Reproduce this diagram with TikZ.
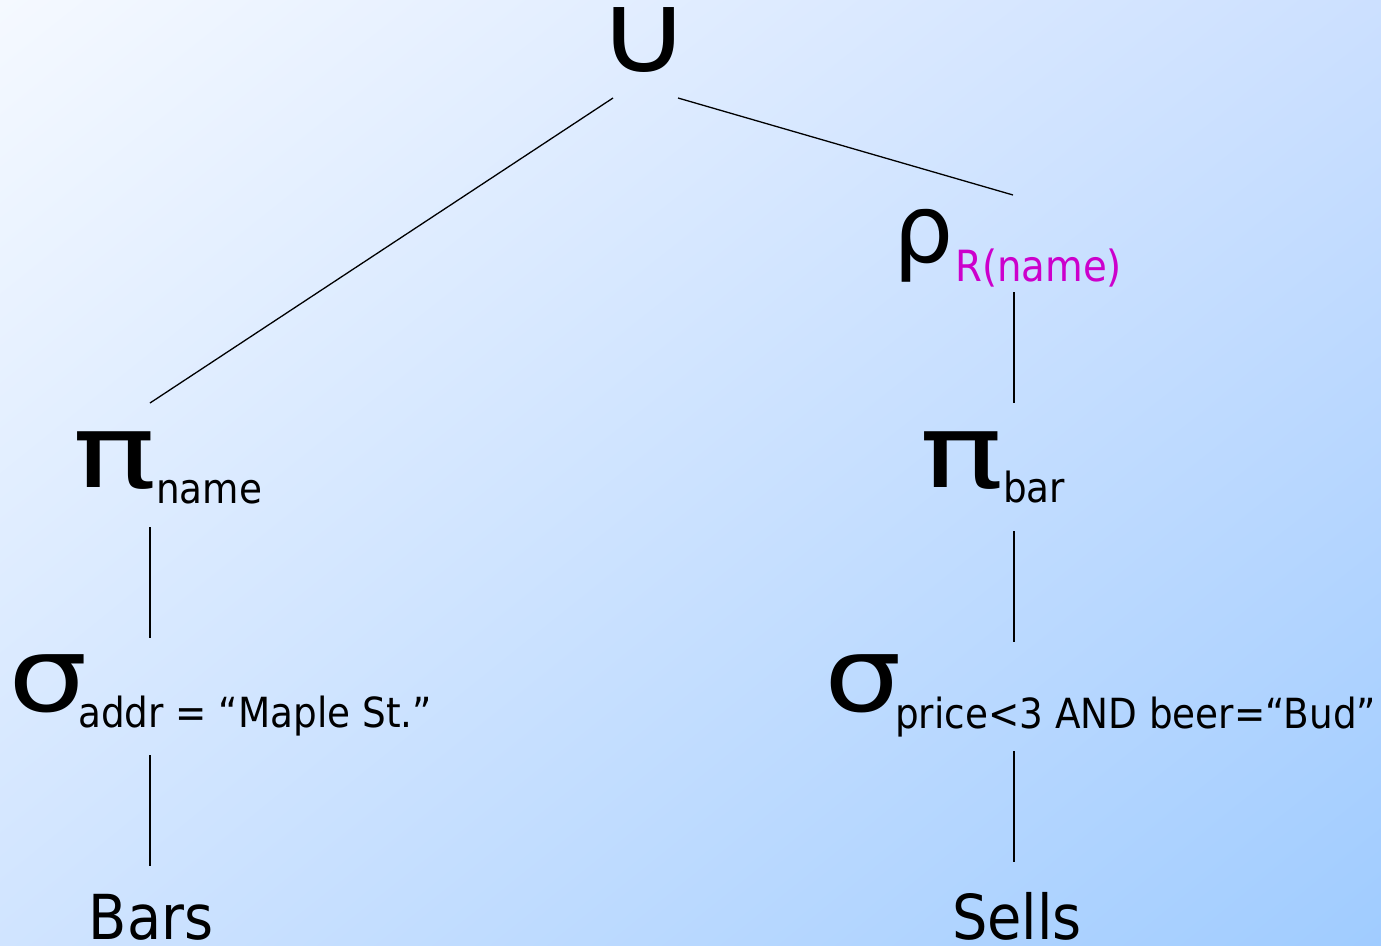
\documentclass[tikz,border=0pt]{standalone}
\usepackage{fontspec}
\usetikzlibrary{shadings}
\setmainfont{DejaVu Sans}[FakeStretch=0.9]
\newfontfamily\symfont{DejaVu Sans}
\definecolor{mag}{HTML}{CC00CC}
\definecolor{bgUL}{HTML}{F5F9FF}
\definecolor{bgUR}{HTML}{CCE0FF}
\definecolor{bgLL}{HTML}{D0E4FF}
\definecolor{bgLR}{HTML}{A0CCFF}
\tikzset{
  sym/.style={inner sep=0pt, anchor=base, font=\symfont\fontsize{100}{100}\selectfont},
  subtxt/.style={inner sep=0pt, anchor=base west, font=\fontsize{41.5}{41.5}\selectfont},
  rel/.style={inner sep=0pt, anchor=base, text depth=0pt, font=\fontsize{62}{62}\selectfont},
  edge/.style={line width=1.3pt, black}
}
\begin{document}
\begin{tikzpicture}[x=1pt,y=-1pt]
\shade[upper left=bgUL, upper right=bgUR, lower left=bgLL, lower right=bgLR] (0,0) rectangle (1381,945);
\useasboundingbox (0,0) rectangle (1381,945);
% nodes
\node[sym, font=\symfont\fontsize{85}{85}\selectfont] (union) at (644,72) {\raisebox{0pt}[60pt][0pt]{\scalebox{1.5}[1.32]{∪}}};
\node[sym, font=\symfont\fontsize{95}{95}\selectfont] (rho) at (924,262) {ρ};
\node[subtxt, text=mag, font=\fontsize{43}{43}\selectfont] (rhosub) at (955,281) {R(name)};
\node[sym] (pil) at (115,487) {\scalebox{1.4}[1.02]{π}};
\node[subtxt] (pilsub) at (156,503) {name};
\node[sym] (pir) at (962,487) {\scalebox{1.4}[1.02]{π}};
\node[subtxt] (pirsub) at (1003,502) {bar};
\node[sym] (sigl) at (48,711) {\scalebox{1.25}[1.04]{σ}};
\node[subtxt] (siglsub) at (78,727) {addr = “Maple St.”};
\node[sym] (sigr) at (863,711) {\scalebox{1.22}[1.04]{σ}};
\node[subtxt] (sigrsub) at (895,728) {price<3 AND beer=“Bud”};
\node[rel] (bars) at (151,939) {Bars};
\node[rel] (sells) at (1017,939) {Sells};
% connector ends
\coordinate (uL) at (613,98);
\coordinate (uR) at (678,98);
\coordinate (rhoT) at (1013,195);
\coordinate (rhoB) at (1014,292);
\coordinate (pilT) at (150,403);
\coordinate (pilB) at (150,527);
\coordinate (siglT) at (150,638);
\coordinate (siglB) at (150,755);
\coordinate (barsT) at (150,866);
\coordinate (pirT) at (1014,403);
\coordinate (pirB) at (1014,531);
\coordinate (sigrT) at (1014,642);
\coordinate (sigrB) at (1014,751);
\coordinate (sellsT) at (1014,862);
\draw[edge] (uL) -- (pilT);
\draw[edge] (uR) -- (rhoT);
\draw[edge] (rhoB) -- (pirT);
\draw[edge] (pilB) -- (siglT);
\draw[edge] (siglB) -- (barsT);
\draw[edge] (pirB) -- (sigrT);
\draw[edge] (sigrB) -- (sellsT);
\end{tikzpicture}
\end{document}
